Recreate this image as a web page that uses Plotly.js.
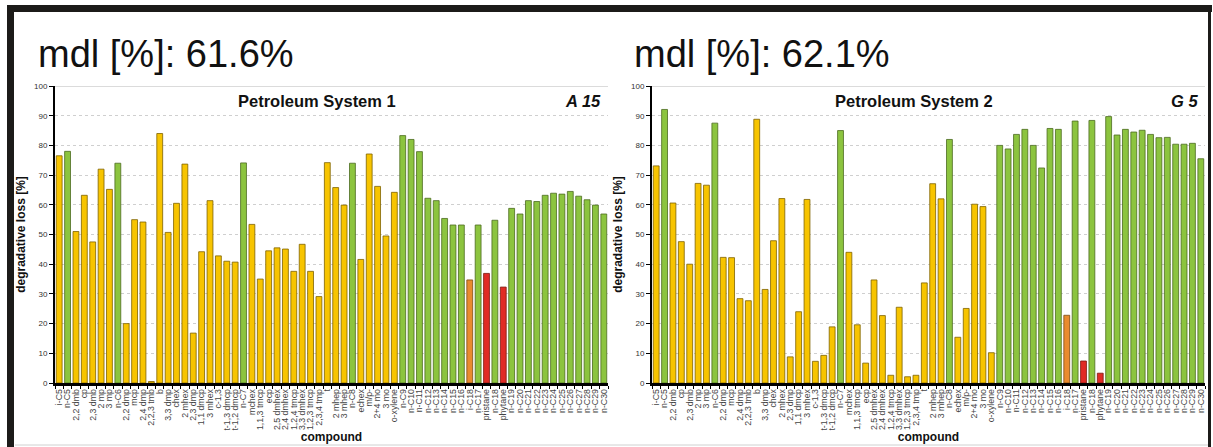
<!DOCTYPE html>
<html><head><meta charset="utf-8">
<script src="https://cdn.plot.ly/plotly-3.0.1.min.js"></script>
<style>html,body{margin:0;padding:0;background:#fff;overflow:hidden;} #chart{width:1213px;height:447px;}</style>
</head><body><div id="chart"></div>
<script>
const compounds = ["i-C5","n-C5","2,2 dmb","cp","2,3 dmb","2 mp","3 mp","n-C6","2,2 dmp","mcp","2,4 dmp","2,2,3 tmb","b","3,3 dmp","chex","2 mhex","2,3 dmp","1,1 dmcp","3 mhex","c-1,3","t-1,3 dmcp","t-1,2 dmcp","n-C7","mchex","1,1,3 tmcp","ecp","2,5 dmhex","2,4 dmhex","1,2,4 tmcp","3,3 dmhex","1,2,3 tmcp","2,3,4 tmp","t","2 mhep","3 mhep","n-C8","echex","m/p-","2+4 mo","3 mo","o-xylene","n-C9","n-C10","n-C11","n-C12","n-C13","n-C14","n-C15","n-C16","i-C18","n-C17","pristane","n-C18","phytane","n-C19","n-C20","n-C21","n-C22","n-C23","n-C24","n-C25","n-C26","n-C27","n-C28","n-C29","n-C30"];

const lossSystem1 = [76.5,78,51,63.2,47.5,72,65.2,74,20,55,54.2,0.5,84,50.7,60.5,73.7,16.8,44.2,61.4,42.8,41,40.7,74.1,53.4,35,44.5,45.5,45.1,37.6,46.7,37.6,29.1,74.2,65.8,59.9,74,41.6,77.1,66.2,49.5,64.2,83.3,82,77.9,62.2,61.4,55.4,53.2,53.2,34.7,53.2,36.9,54.8,32.3,58.8,56.9,61.4,61.1,63.2,63.9,63.6,64.5,62.9,61.7,59.9,56.9];

const lossSystem2 = [73.1,92.1,60.6,47.6,40,67.2,66.6,87.5,42.3,42.2,28.4,27.7,88.8,31.5,47.9,62.1,8.8,24,61.8,7.3,9.3,18.9,85,44,19.6,6.7,34.7,22.7,2.6,25.5,2.1,2.6,33.7,67.1,62,82,15.4,25.1,60.2,59.4,10.2,80,78.8,83.7,85.4,80,72.4,85.7,85.4,22.8,88.2,7.4,88.4,3.3,89.7,83.5,85.4,84.5,85.1,83.7,82.6,82.7,80.4,80.4,80.7,75.5];

const panelTitles = ["Petroleum System 1", "Petroleum System 2"];
const sampleLabels = ["A 15", "G 5"];
const mdlValues = ["61.6", "62.1"];
const yTicks = [0,10,20,30,40,50,60,70,80,90,100];

const W = 1213, H = 447;
function px(x){ return x / W; }
function py(y){ return 1 - y / H; }

function fillColor(c){
  if (c === "pristane" || c === "phytane") return "#e12b25";
  if (c === "i-C18") return "#e98b2f";
  if (c.startsWith("n-C")) return "#8cc43f";
  return "#f7c400";
}
function edgeColor(c){
  if (c === "pristane" || c === "phytane") return "#7a1a10";
  if (c === "i-C18") return "#7a4a10";
  if (c.startsWith("n-C")) return "#4b6b1f";
  return "#7d6200";
}
const fills = compounds.map(fillColor);
const edges = compounds.map(edgeColor);

function barTrace(vals, xa, ya){
  return {type:"bar", x: compounds, y: vals, xaxis: xa, yaxis: ya,
    marker:{color: fills, line:{color: edges, width: 0.8}}, hoverinfo:"x+y", showlegend:false};
}

const tickFont = {family:"Liberation Sans, Arial, sans-serif", size:8, color:"#333"};
const xTickFont = {family:"Liberation Sans Narrow, Arial Narrow, Liberation Sans, sans-serif", size:8.8, color:"#444"};
function xAxis(domain, anchor){
  return {domain: domain, anchor: anchor, type:"category", range:[-0.5, compounds.length-0.5],
    tickmode:"array", tickvals: compounds, ticktext: compounds,
    tickangle:-90, tickfont: xTickFont, ticks:"outside", ticklen:3, tickwidth:1, tickcolor:"#000",
    tickson:"boundaries", showline:true, linecolor:"#000", linewidth:2.5, showgrid:false, zeroline:false,
    title:{text:"<b>compound</b>", font:{family:"Liberation Sans, Arial, sans-serif", size:12, color:"#111"}, standoff:3},
    fixedrange:true, automargin:false};
}
function yAxis(anchor){
  return {domain:[py(383), py(86)], anchor: anchor, range:[0,100], tickvals: yTicks, tickfont: tickFont,
    ticks:"outside", ticklen:4, tickcolor:"#000", showline:true, linecolor:"#000", linewidth:2,
    showgrid:true, gridcolor:"#cfcfcf", griddash:"dot", gridwidth:1, zeroline:false,
    title:{text:"<b>degradative loss [%]</b>", font:{family:"Liberation Sans, Arial, sans-serif", size:12, color:"#111"}, standoff:6},
    fixedrange:true, automargin:false};
}

const ann = [];
const xStarts = [36, 632];
const plotL = [55, 652], plotR = [608, 1205];
for (let i = 0; i < 2; i++){
  ann.push({xref:"paper", yref:"paper", x: px(xStarts[i]), y: py(54), xanchor:"left", yanchor:"middle",
    text:"mdl [%]: " + mdlValues[i] + "%", showarrow:false,
    font:{family:"Liberation Sans, Arial, sans-serif", size:38, color:"#111"}});
  ann.push({xref:"paper", yref:"paper", x: px((plotL[i]+plotR[i])/2 - 15), y: py(101), xanchor:"center", yanchor:"middle",
    text:"<b>" + panelTitles[i] + "</b>", showarrow:false,
    font:{family:"Liberation Sans, Arial, sans-serif", size:16.5, color:"#111"}});
  ann.push({xref:"paper", yref:"paper", x: px(plotR[i] - 5), y: py(101), xanchor:"right", yanchor:"middle",
    text:"<b><i>" + sampleLabels[i] + "</i></b>", showarrow:false,
    font:{family:"Liberation Sans, Arial, sans-serif", size:16.5, color:"#111"}});
}

const shapes = [
  {type:"line", xref:"x domain", yref:"y", x0:0, x1:1, y0:100, y1:100, line:{color:"#cfcfcf", width:1.5}},
  {type:"line", xref:"x2 domain", yref:"y2", x0:0, x1:1, y0:100, y1:100, line:{color:"#cfcfcf", width:1.5}},
  {type:"rect", xref:"paper", yref:"paper", x0:px(7), x1:px(14), y0:0, y1:py(5), line:{width:0}, fillcolor:"#1c1b19"},
  {type:"rect", xref:"paper", yref:"paper", x0:px(7), x1:px(1212), y0:py(12), y1:py(5), line:{width:0}, fillcolor:"#1c1b19"},
  {type:"rect", xref:"paper", yref:"paper", x0:px(1208), x1:px(1211), y0:0, y1:py(5), line:{width:0}, fillcolor:"#1c1b19"},
  {type:"line", xref:"paper", yref:"paper", x0:px(15), x1:px(1208), y0:py(445), y1:py(445), line:{color:"#d0d0d0", width:1}}
];

const layout = {
  width: W, height: H, margin:{l:0, r:0, t:0, b:0}, paper_bgcolor:"#fff", plot_bgcolor:"#fff",
  bargap: 0.3, showlegend:false,
  xaxis: xAxis([px(55), px(608)], "y"),
  yaxis: yAxis("x"),
  xaxis2: xAxis([px(652), px(1205)], "y2"),
  yaxis2: yAxis("x2"),
  annotations: ann, shapes: shapes,
  font:{family:"Liberation Sans, Arial, sans-serif"}
};

Plotly.newPlot("chart", [barTrace(lossSystem1, "x", "y"), barTrace(lossSystem2, "x2", "y2")], layout, {displayModeBar:false, staticPlot:true});
</script></body></html>
